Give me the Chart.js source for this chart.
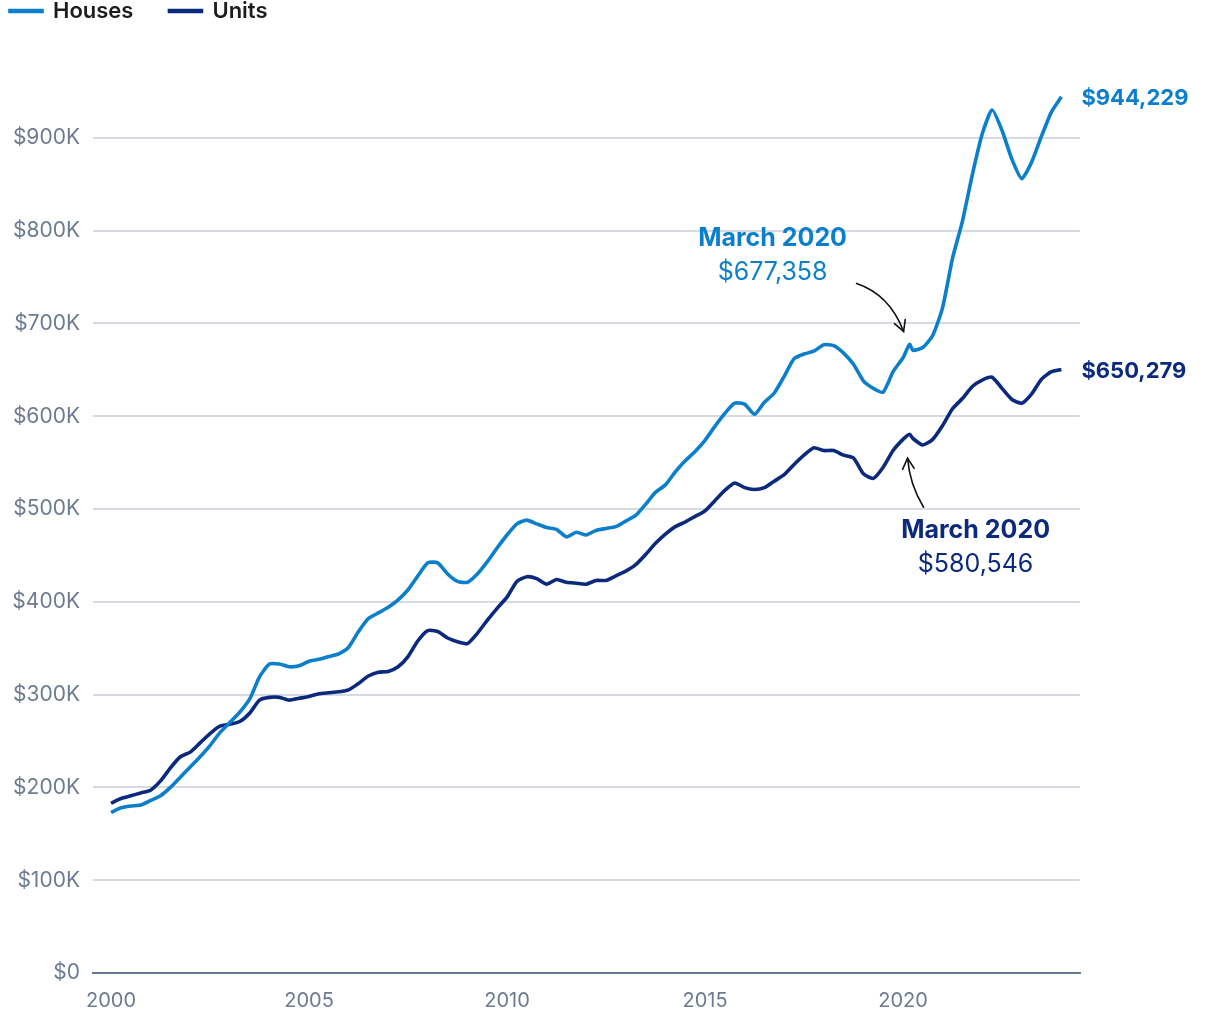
<!DOCTYPE html>
<html>
<head>
<meta charset="utf-8">
<script src="https://cdn.jsdelivr.net/npm/chart.js@4.4.1/dist/chart.umd.min.js"></script>
<style>
  html, body { margin: 0; padding: 0; background: #fff; overflow: hidden; }
  #grafico { display: block; }
</style>
</head>
<body>
<canvas id="grafico" width="1220" height="1020" style="width:1220px;height:1020px"></canvas>
<script>
// ===========================
// Dados (valores em milhares de $)
// ===========================
const dates = [
  "2000-01","2000-04","2000-07","2000-10",
  "2001-01","2001-04","2001-07","2001-10",
  "2002-01","2002-04","2002-07","2002-10",
  "2003-01","2003-04","2003-07","2003-10",
  "2004-01","2004-04","2004-07","2004-10",
  "2005-01","2005-04","2005-07","2005-10",
  "2006-01","2006-04","2006-07","2006-10",
  "2007-01","2007-04","2007-07","2007-10",
  "2008-01","2008-04","2008-07","2008-10",
  "2009-01","2009-04","2009-07","2009-10",
  "2010-01","2010-04","2010-07","2010-10",
  "2011-01","2011-04","2011-07","2011-10",
  "2012-01","2012-04","2012-07","2012-10",
  "2013-01","2013-04","2013-07","2013-10",
  "2014-01","2014-04","2014-07","2014-10",
  "2015-01","2015-04","2015-07","2015-10",
  "2016-01","2016-04","2016-07","2016-10",
  "2017-01","2017-04","2017-07","2017-10",
  "2018-01","2018-04","2018-07","2018-10",
  "2019-01","2019-04","2019-07","2019-10",
  "2020-01","2020-03","2020-04","2020-07","2020-10",
  "2021-01","2021-04","2021-07","2021-10",
  "2022-01","2022-04","2022-07","2022-10",
  "2023-01","2023-04","2023-07","2023-10",
  "2024-01"
];

const houses = [
  173, 178, 180, 181,
  186, 191, 200, 211,
  222, 233, 245, 259,
  270, 281, 295, 319,
  333, 333, 330, 331,
  336, 338, 341, 344,
  351, 368, 382, 388,
  394, 402, 413, 428,
  442, 442, 430, 422,
  421, 430, 443, 458,
  472, 484, 488, 484,
  480, 478, 470, 475,
  472, 477, 479, 481,
  487, 493, 505, 518,
  526, 540, 552, 562,
  574, 589, 603, 614,
  613, 602, 615, 625,
  643, 662, 667, 670,
  677, 676, 668, 656,
  638, 630, 626, 648,
  663, 677.358, 671, 674, 687,
  717, 770, 810, 860,
  904, 930, 908, 877,
  856, 874, 902, 928,
  944.229
];

const units = [
  183, 188, 191, 194,
  197, 207, 221, 233,
  238, 248, 258, 266,
  268, 271, 280, 294,
  297, 297, 294, 296,
  298, 301, 302, 303,
  305, 312, 320, 324,
  325, 330, 341, 358,
  369, 368, 361, 357,
  355, 366, 380, 393,
  405, 422, 427, 425,
  419, 424, 421, 420,
  419, 423, 423, 428,
  433, 440, 451, 463,
  473, 481, 486, 492,
  498, 509, 520, 528,
  523, 521, 523, 530,
  537, 548, 558, 566,
  563, 563, 558, 555,
  538, 533, 545, 563,
  575, 580.546, 576, 569, 575,
  590, 608, 619, 632,
  639, 642, 630, 618,
  614, 624, 640, 648,
  650.279
];

const seriesNames = ["Houses", "Units"];
const seriesColors = ["#0b7fcc", "#0b2a7d"];
const yTicks = [0, 100, 200, 300, 400, 500, 600, 700, 800, 900];
const xTicks = [2000, 2005, 2010, 2015, 2020];
const noteDate = "2020-03";
const noteTitle = "March 2020";

// ===========================
// Helpers
// ===========================
function toYear(s) {
  const [y, m] = s.split("-").map(Number);
  return y + (m - 1) / 12;
}

function formatDollar(k) {
  return "$" + Math.round(k * 1000).toLocaleString("en-US");
}

const FONT = "Inter, 'Noto Sans', sans-serif";
const noteIndex = dates.indexOf(noteDate);

// ===========================
// Anotações e rótulos finais
// ===========================
function drawArrow(ctx, sx, sy, cx, cy, ex, ey) {
  ctx.beginPath();
  ctx.moveTo(sx, sy);
  ctx.quadraticCurveTo(cx, cy, ex, ey);
  ctx.stroke();
  const ang = Math.atan2(ey - cy, ex - cx);
  const len = 12;
  ctx.beginPath();
  ctx.moveTo(ex - len * Math.cos(ang - 0.5), ey - len * Math.sin(ang - 0.5));
  ctx.lineTo(ex, ey);
  ctx.lineTo(ex - len * Math.cos(ang + 0.5), ey - len * Math.sin(ang + 0.5));
  ctx.stroke();
}

const annotationPlugin = {
  id: "anotacoes",
  afterDatasetsDraw(chart) {
    const ctx = chart.ctx;
    const xs = chart.scales.x;
    const ys = chart.scales.y;

    // rótulos no fim das linhas
    chart.data.datasets.forEach((ds) => {
      const last = ds.data[ds.data.length - 1];
      ctx.save();
      ctx.font = "700 22px " + FONT;
      ctx.fillStyle = ds.borderColor;
      ctx.textAlign = "left";
      ctx.textBaseline = "middle";
      ctx.fillText(formatDollar(last.y), xs.getPixelForValue(last.x) + 20, ys.getPixelForValue(last.y) + 2);
      ctx.restore();
    });

    // March 2020 — casas (acima) e unidades (abaixo)
    const notes = [
      { ds: 0, title: [-137, -106], value: [-137, -72], arrow: [-53, -61, -20, -50, -6, -13] },
      { ds: 1, title: [66, 96], value: [66, 130], arrow: [14, 73, 0, 50, -2, 24] }
    ];

    notes.forEach((n) => {
      const ds = chart.data.datasets[n.ds];
      const pt = ds.data[noteIndex];
      const px = xs.getPixelForValue(pt.x);
      const py = ys.getPixelForValue(pt.y);
      ctx.save();
      ctx.fillStyle = ds.borderColor;
      ctx.textAlign = "center";
      ctx.textBaseline = "middle";
      ctx.font = "700 25px " + FONT;
      ctx.fillText(noteTitle, px + n.title[0], py + n.title[1]);
      ctx.font = "400 25px " + FONT;
      ctx.fillText(formatDollar(pt.y), px + n.value[0], py + n.value[1]);
      ctx.strokeStyle = "#111";
      ctx.lineWidth = 1.6;
      ctx.lineCap = "round";
      const a = n.arrow;
      drawArrow(ctx, px + a[0], py + a[1], px + a[2], py + a[3], px + a[4], py + a[5]);
      ctx.restore();
    });
  }
};

// ===========================
// Gráfico
// ===========================
const datasets = [houses, units].map((serie, i) => ({
  label: seriesNames[i],
  data: serie.map((v, j) => ({ x: toYear(dates[j]), y: v })),
  borderColor: seriesColors[i],
  backgroundColor: seriesColors[i],
  borderWidth: 3.6,
  pointRadius: 0,
  tension: 0.2
}));

new Chart(document.getElementById("grafico"), {
  type: "line",
  data: { datasets },
  plugins: [annotationPlugin],
  options: {
    responsive: false,
    animation: false,
    layout: { padding: { left: -26, right: 140, top: -36, bottom: 0 } },
    plugins: {
      // legenda por fora, título vazio só como espaço até a área do gráfico
      legend: {
        display: true,
        position: "top",
        align: "start",
        weight: 3000,
        labels: {
          boxWidth: 32,
          boxHeight: 1,
          padding: 36,
          color: "#1d1d1f",
          font: { family: FONT, size: 22, weight: "600" }
        }
      },
      title: {
        display: true,
        text: " ",
        font: { size: 1 },
        padding: { top: 0, bottom: 11.8 }
      },
      tooltip: { enabled: false }
    },
    scales: {
      x: {
        type: "linear",
        min: 1999.545,
        max: 2024.47,
        afterBuildTicks: (s) => { s.ticks = xTicks.map((v) => ({ value: v })); },
        afterFit: (s) => { s.height = 47; },
        grid: { display: false, drawTicks: false },
        border: { display: true, color: "#66788f", width: 2 },
        ticks: {
          padding: 16,
          color: "#6c7b91",
          font: { family: FONT, size: 20 },
          callback: (v) => String(v),
          maxRotation: 0
        }
      },
      y: {
        min: 0,
        max: 1000,
        afterBuildTicks: (s) => { s.ticks = yTicks.map((v) => ({ value: v })); },
        afterFit: (s) => { s.width = 119; s.paddingTop = 0; },
        grid: { color: "#d6dae3", lineWidth: 2, drawTicks: false },
        border: { display: false },
        ticks: {
          padding: 13,
          color: "#6c7b91",
          font: { family: FONT, size: 21 },
          callback: (v) => (v === 0 ? "$0" : "$" + v + "K")
        }
      }
    }
  }
});
</script>
</body>
</html>
